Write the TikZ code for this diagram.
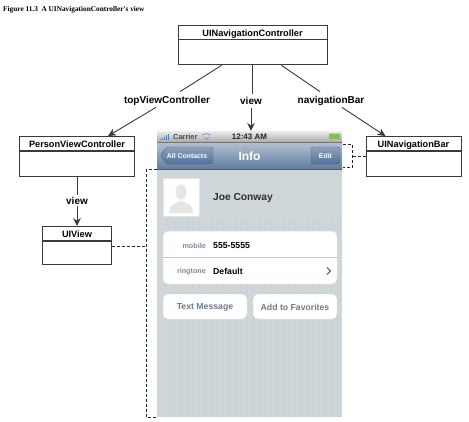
\documentclass[tikz,border=0pt]{standalone}
\usepackage{fontspec}
\setmainfont{Liberation Sans}
\newfontfamily\capfont{Liberation Serif}
\usetikzlibrary{arrows.meta,calc,positioning}
\definecolor{linec}{HTML}{3A3A3A}
\definecolor{phonebg}{HTML}{CFD6DA}
\definecolor{stripe}{HTML}{C4CDD2}
\definecolor{graytxt}{HTML}{7E8A9C}
\definecolor{btntxt}{HTML}{6E7B8E}
\definecolor{navtop}{HTML}{8FA3BB}
\definecolor{navbot}{HTML}{4F7099}
\definecolor{bartop}{HTML}{B4C2D2}
\definecolor{barbot}{HTML}{627D9F}
\definecolor{sigc}{HTML}{4A7FC5}
\definecolor{wific}{HTML}{5E96D6}
\definecolor{batc}{HTML}{7FC24A}
\definecolor{btnline}{HTML}{4F6A8C}
\tikzset{
 x=1pt,y=-1pt,
 hdr/.style={draw=linec,line width=0.9pt,fill=white,inner sep=0pt,minimum height=14pt,text height=8pt,text depth=0pt,font=\bfseries\fontsize{9.2}{11}\selectfont},
 bodybox/.style={draw=linec,line width=0.9pt,fill=white,inner sep=0pt,below=0pt of #1},
 lab/.style={inner sep=0pt,font=\bfseries\fontsize{10}{12}\selectfont},
 conn/.style={draw=linec,line width=0.9pt},
 arr/.style={conn,-{Stealth[length=8pt,width=7.5pt]}},
 dashln/.style={draw=black!85,line width=0.8pt,dash pattern=on 3pt off 2pt},
 navbtn/.style={draw=btnline,line width=0.4pt,top color=navtop,bottom color=navbot,rounded corners=2.5pt},
 wtxt/.style={inner sep=0pt,text=white,font=\bfseries\fontsize{6.9}{8}\selectfont},
 ph/.style={inner sep=0pt,font=\bfseries\fontsize{8.7}{10}\selectfont},
 card/.style={fill=white,draw=black!12,line width=0.5pt,rounded corners=5pt},
 graylab/.style={anchor=east,inner sep=0pt,text=graytxt,font=\bfseries\fontsize{7.2}{9}\selectfont},
 btnlab/.style={inner sep=0pt,text=btntxt,font=\bfseries\fontsize{8.7}{10}\selectfont},
}
\begin{document}
\begin{tikzpicture}
\useasboundingbox (0,0) rectangle (469,421);
\fill[white] (0,0) rectangle (469,421);
\node[anchor=west,inner sep=0pt,font=\capfont\bfseries\fontsize{7.3}{8}\selectfont] (cap) at (3,9.5) {Figure 11.3\ \ A UINavigationController's view};

% phone
\fill[phonebg] (157,169) rectangle (342,417);
\foreach \i in {175,181,...,337} {\draw[stripe,line width=0.5pt,opacity=.45] (\i,220) -- (\i,417);}
\fill[top color=black!7,bottom color=black!33] (157,131) rectangle (342,142);
\shade[top color=bartop,bottom color=barbot] (157,142) rectangle (342,169);
\draw[black!55,line width=0.5pt] (157,142) -- (342,142);
\draw[black!65,line width=0.5pt] (157,169) -- (342,169);

% status bar
\foreach \i/\h in {0/1.5,1/2.5,2/3.5,3/5,4/6.5} {\fill[sigc] ({160+\i*1.9},140) rectangle ({161.4+\i*1.9},140-\h);}
\node[anchor=west,inner sep=0pt,text=black!70,font=\bfseries\fontsize{7.4}{8}\selectfont] (carrier) at (173,137) {Carrier};
\draw[wific,line width=0.7pt] (202.5,135) .. controls (204.5,133.3) and (208.5,133.3) .. (210.5,135);
\draw[wific,line width=0.7pt] (204,137) -- (206.5,139.5) -- (209,137);
\node[inner sep=0pt,text=black!85,font=\bfseries\fontsize{8}{9}\selectfont] (clock) at (249.5,137) {12:43 AM};
\fill[batc,rounded corners=1pt] (329,133.5) rectangle (340,139);

% nav bar
\path[navbtn] (160,155.5) -- (167,147) -- (213,147) -- (213,164) -- (167,164) -- cycle;
\node[wtxt] (contacts) at (187,156) {All Contacts};
\path[navbtn] (311,147) rectangle (340,164);
\node[wtxt] (edit) at (325.5,156) {Edit};
\node[inner sep=0pt,text=white,font=\bfseries\fontsize{12}{14}\selectfont] (info) at (249.5,156) {Info};

% person
\fill[white,draw=black!10,line width=0.5pt] (163,178) rectangle (199,216);
\fill[black!10] (181,192) ellipse[x radius=5.5,y radius=7.5];
\fill[black!10] (169,213) .. controls (169,204) and (176,203) .. (181,201) .. controls (186,203) and (193,204) .. (193,213) -- cycle;
\node[anchor=west,inner sep=0pt,text=black!82,font=\bfseries\fontsize{10.2}{12}\selectfont] (joe) at (213,197.5) {Joe Conway};

% table
\path[card] (163,231) rectangle (337,284);
\draw[black!22,line width=0.5pt] (163,257) -- (337,257);
\node[graylab] (mobile) at (206,245.5) {mobile};
\node[anchor=west,ph] (num) at (213,245.5) {555-5555};
\node[graylab] (ring) at (206,271.5) {ringtone};
\node[anchor=west,ph] (def) at (213,271.5) {Default};
\draw[black!55,line width=1.1pt] (327,267.5) -- (330.5,271) -- (327,274.5);

\path[card] (163,294) rectangle (247,319);
\path[card] (253,294) rectangle (337,319);
\node[btnlab] (tm) at (205,307) {Text Message};
\node[btnlab] (fav) at (295,307) {Add to Favorites};

% boxes
\node[hdr,minimum width=149pt] (nav) at (252.5,32) {UINavigationController};
\node[bodybox=nav,minimum width=149pt,minimum height=25pt] (navb) {};
\node[hdr,minimum width=115pt] (pvc) at (77,143.5) {PersonViewController};
\node[bodybox=pvc,minimum width=115pt,minimum height=25pt] (pvcb) {};
\node[hdr,minimum width=69pt] (uiv) at (77,233.5) {UIView};
\node[bodybox=uiv,minimum width=69pt,minimum height=23pt] (uivb) {};
\node[hdr,minimum width=95pt] (bar) at (413.5,143.5) {UINavigationBar};
\node[bodybox=bar,minimum width=95pt,minimum height=25pt] (barb) {};

% labels
\node[lab] (ltop) at (167,100.5) {topViewController};
\node[lab] (lview) at (251,100.5) {view};
\node[lab] (lnav) at (331,100.5) {navigationBar};
\node[lab] (lview2) at (77,200.5) {view};

% connectors
\draw[conn] ($(navb.south west)+(44,0)$) -- ($(ltop.north)+(13,-4)$);
\draw[arr] ($(ltop.south)+(-11,2)$) -- ($(pvc.north)+(31,0)$);
\draw[conn] ($(navb.south)+(-0.5,0)$) -- ($(lview.north)+(1,-3)$);
\coordinate (phonetop) at (251,131);
\draw[arr] ($(lview.south)+(0,4)$) -- (phonetop);
\draw[conn] ($(navb.south east)+(-46,0)$) -- ($(lnav.north)+(-11,-4)$);
\draw[arr] ($(lnav.south)+(11,2)$) -- ($(bar.north)+(-28,0)$);
\draw[conn] (pvcb.south) -- ($(lview2.north)+(0,-2)$);
\draw[arr] ($(lview2.south)+(0,2)$) -- (uiv.north);

% dashed brackets
\coordinate (b1) at (343,144);
\coordinate (b2) at (343,167);
\draw[dashln] (b1) -- (352.5,144) -- (352.5,167) -- (b2);
\draw[dashln] (352.5,156) -- (barb.west |- 352.5,156);
\coordinate (l1) at (157,169.5);
\coordinate (l2) at (157,417);
\draw[dashln] (l1) -- (146,169.5) -- (146,417) -- (l2);
\draw[dashln] (uivb.east |- 146,246) -- (146,246);
\end{tikzpicture}
\end{document}
